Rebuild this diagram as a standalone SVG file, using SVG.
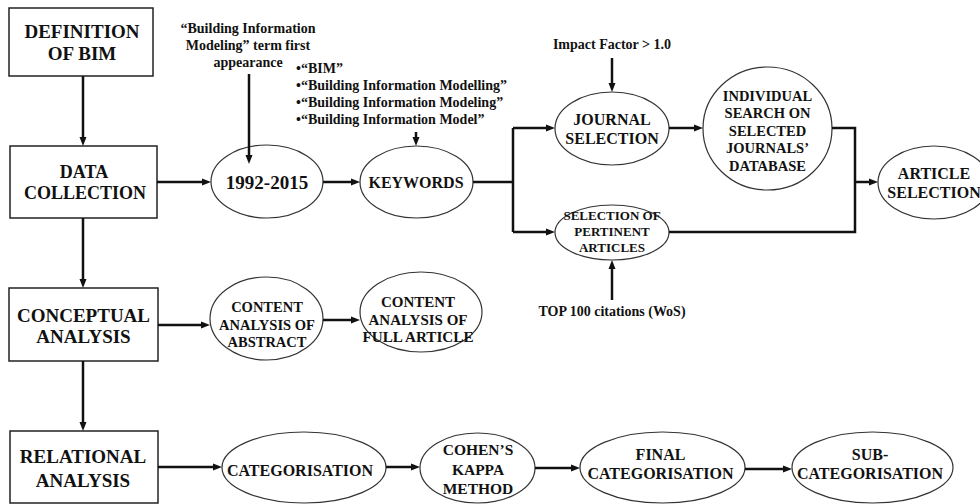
<svg xmlns="http://www.w3.org/2000/svg" width="980" height="504" viewBox="0 0 980 504">
<style>
.t{font-weight:bold;fill:#111;text-anchor:middle}
.box{fill:#fff;stroke:#222;stroke-width:1.5}
.ell{fill:#fff;stroke:#333;stroke-width:1.2}
.con{fill:none;stroke:#111;stroke-width:2.5}
.arr{marker-end:url(#ah)}
.lbl{font-size:14px}
.bul{font-size:14px;text-anchor:start}
</style>
<defs>
<marker id="ah" markerUnits="userSpaceOnUse" markerWidth="10" markerHeight="8" refX="2" refY="4" orient="auto">
<path d="M0,0.5 L9,4 L0,7.5 z" fill="#111"/>
</marker>
</defs>
<rect width="980" height="504" fill="#fff"/>
<g class="t" font-family="'Liberation Serif', 'Times New Roman', 'DejaVu Serif', serif">
<g id="definition">
<rect class="box" x="9" y="8" width="144" height="68"/>
<text x="82" y="38" font-size="19">DEFINITION</text>
<text x="82" y="60" font-size="19">OF BIM</text>
</g>
<g id="data-collection">
<rect class="box" x="10" y="146" width="147" height="72"/>
<text x="84" y="178" font-size="18">DATA</text>
<text x="85" y="198.5" font-size="18">COLLECTION</text>
</g>
<g id="conceptual-analysis">
<rect class="box" x="9" y="288" width="149" height="73"/>
<text x="83.5" y="321.5" font-size="19">CONCEPTUAL</text>
<text x="83.5" y="343" font-size="19">ANALYSIS</text>
</g>
<g id="relational-analysis">
<rect class="box" x="10" y="431" width="148" height="72"/>
<text x="83" y="463" font-size="19">RELATIONAL</text>
<text x="83" y="487" font-size="19">ANALYSIS</text>
</g>
<g id="term-label">
<text class="lbl" x="248" y="33">“Building Information</text>
<text class="lbl" x="248" y="50">Modeling” term first</text>
<text class="lbl" x="248" y="66.5">appearance</text>
</g>
<g id="keyword-list">
<text class="bul" x="296" y="73">•“BIM”</text>
<text class="bul" x="296" y="90">•“Building Information Modelling”</text>
<text class="bul" x="296" y="107">•“Building Information Modeling”</text>
<text class="bul" x="296" y="124">•“Building Information Model”</text>
</g>
<g id="period">
<ellipse class="ell" cx="267" cy="181.5" rx="56" ry="36.5"/>
<text x="267" y="189" font-size="19">1992-2015</text>
</g>
<g id="keywords">
<ellipse class="ell" cx="416.5" cy="182" rx="56.5" ry="36"/>
<text x="416" y="188" font-size="16">KEYWORDS</text>
</g>
<g id="impact-label">
<text class="lbl" x="612" y="49">Impact Factor &gt; 1.0</text>
</g>
<g id="journal-selection">
<ellipse class="ell" cx="612" cy="128.5" rx="57" ry="36.5"/>
<text x="612" y="125" font-size="16">JOURNAL</text>
<text x="612" y="144" font-size="16">SELECTION</text>
</g>
<g id="individual-search">
<ellipse class="ell" cx="767.5" cy="128.5" rx="64.5" ry="61.5"/>
<text x="767.5" y="100.5" font-size="14.5">INDIVIDUAL</text>
<text x="767.5" y="118" font-size="14.5">SEARCH ON</text>
<text x="767.5" y="136" font-size="14.5">SELECTED</text>
<text x="767.5" y="153" font-size="14.5">JOURNALS’</text>
<text x="767.5" y="171" font-size="14.5">DATABASE</text>
</g>
<g id="pertinent-articles">
<ellipse class="ell" cx="612" cy="232.5" rx="57" ry="27.5"/>
<text x="612" y="220" font-size="13">SELECTION OF</text>
<text x="612" y="236" font-size="13">PERTINENT</text>
<text x="612" y="252" font-size="13">ARTICLES</text>
</g>
<g id="top100-label">
<text class="lbl" x="612" y="316">TOP 100 citations (WoS)</text>
</g>
<g id="article-selection">
<ellipse class="ell" cx="934" cy="182.5" rx="56" ry="36.5"/>
<text x="934" y="179" font-size="16">ARTICLE</text>
<text x="934" y="198" font-size="16">SELECTION</text>
</g>
<g id="content-abstract">
<ellipse class="ell" cx="266.5" cy="318.5" rx="56.5" ry="41.5"/>
<text x="267" y="311.5" font-size="14.5">CONTENT</text>
<text x="267" y="329.5" font-size="14.5">ANALYSIS OF</text>
<text x="267" y="347" font-size="14.5">ABSTRACT</text>
</g>
<g id="content-full">
<ellipse class="ell" cx="421" cy="312" rx="61" ry="40"/>
<text x="418" y="306.5" font-size="15">CONTENT</text>
<text x="418" y="325" font-size="15">ANALYSIS OF</text>
<text x="418" y="342" font-size="15" textLength="111" lengthAdjust="spacingAndGlyphs">FULL ARTICLE</text>
</g>
<g id="categorisation">
<ellipse class="ell" cx="304" cy="467.5" rx="82" ry="35.5"/>
<text x="300" y="476" font-size="16">CATEGORISATION</text>
</g>
<g id="cohens-kappa">
<ellipse class="ell" cx="477.5" cy="468" rx="57.5" ry="35"/>
<text x="478" y="455" font-size="15.5">COHEN’S</text>
<text x="478" y="475" font-size="15.5">KAPPA</text>
<text x="478" y="494" font-size="15.5">METHOD</text>
</g>
<g id="final-categorisation">
<ellipse class="ell" cx="662.5" cy="467.5" rx="82.5" ry="35.5"/>
<text x="660.5" y="460" font-size="16">FINAL</text>
<text x="660.5" y="479" font-size="16">CATEGORISATION</text>
</g>
<g id="sub-categorisation">
<ellipse class="ell" cx="872.5" cy="467.5" rx="80.5" ry="35.5"/>
<text x="870" y="460" font-size="16">SUB-</text>
<text x="870" y="479" font-size="16">CATEGORISATION</text>
</g>
</g>
<g id="connectors">
<path class="con arr" d="M83,76 V139"/>
<path class="con arr" d="M83,218 V281"/>
<path class="con arr" d="M83,361 V424"/>
<path class="con arr" d="M157,182 H204"/>
<path class="con arr" d="M249,74 V157"/>
<path class="con arr" d="M323,182 H353"/>
<path class="con arr" d="M416,132 V139"/>
<path class="con" d="M473,182 H513 M513,128 V232"/>
<path class="con arr" d="M513,128 H548"/>
<path class="con arr" d="M513,232 H548"/>
<path class="con arr" d="M612,58 V85"/>
<path class="con arr" d="M669,128 H696"/>
<path class="con" d="M832,128 H855 V232 H669"/>
<path class="con arr" d="M855,182 H871"/>
<path class="con arr" d="M612,300 V267"/>
<path class="con arr" d="M158,325 H203"/>
<path class="con arr" d="M323,320 H353"/>
<path class="con arr" d="M158,467 H215"/>
<path class="con arr" d="M386,467 H413"/>
<path class="con arr" d="M535,468 H573"/>
<path class="con arr" d="M745,469 H785"/>
</g>
</svg>
